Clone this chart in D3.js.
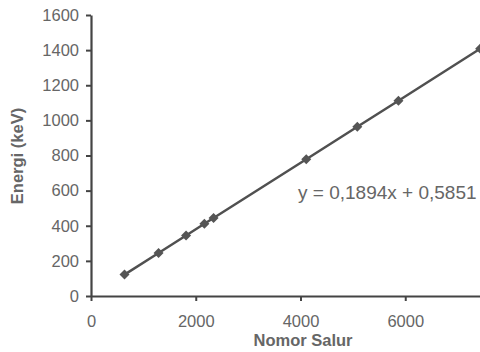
<!DOCTYPE html>
<html>
<head>
<meta charset="utf-8">
<script src="https://cdn.jsdelivr.net/npm/d3@7"></script>
<style>
    body { margin: 0; background: #fff; }
    svg { display: block; }
    text { font-family: "Liberation Sans", Arial, sans-serif; fill: #666; }
</style>
</head>
<body>
<svg id="chart" width="480" height="352"></svg>
<script>
// channel number (Nomor Salur) vs gamma energy (keV)
const channels = [640, 1290, 1815, 2165, 2340, 4110, 5085, 5870, 7430];
const energies = [121.8, 244.7, 344.3, 411.1, 444.0, 778.9, 964.1, 1112.1, 1408.0];
const xTicks = [0, 2000, 4000, 6000];
const yTicks = [0, 200, 400, 600, 800, 1000, 1200, 1400, 1600];
const fitLabel = "y = 0,1894x + 0,5851";

const svg = d3.select("#chart");

const x = d3.scaleLinear().domain([0, 8000]).range([91, 510]);
const y = d3.scaleLinear().domain([0, 1600]).range([296, 15]);

// x axis
const xAxis = svg.append("g")
    .attr("transform", "translate(0," + y(0) + ")")
    .call(d3.axisBottom(x).tickValues(xTicks).tickFormat(d3.format("d"))
        .tickSize(5).tickSizeOuter(0).tickPadding(14));
// y axis
const yAxis = svg.append("g")
    .attr("transform", "translate(" + x(0) + ",0)")
    .call(d3.axisLeft(y).tickValues(yTicks).tickFormat(d3.format("d"))
        .tickSize(5).tickSizeOuter(0).tickPadding(7));

for (let ax of [xAxis, yAxis]) {
    ax.attr("font-family", null);
    ax.select(".domain").attr("stroke", "#444").attr("stroke-width", 2.2);
    ax.selectAll(".tick line").attr("stroke", "#444").attr("stroke-width", 2);
    ax.selectAll(".tick text")
        .style("font-size", "16.5px")
        .style("fill", "#666");
}

// data line and markers
const line = d3.line()
    .x((d, i) => x(channels[i]))
    .y(d => y(d));

svg.append("path")
    .datum(energies)
    .attr("d", line)
    .attr("fill", "none")
    .attr("stroke", "#505050")
    .attr("stroke-width", 2.5);

svg.selectAll(".pt")
    .data(energies)
    .enter()
    .append("path")
        .attr("class", "pt")
        .attr("d", d3.symbol().type(d3.symbolSquare).size(50))
        .attr("transform", (d, i) => "translate(" + x(channels[i]) + "," + y(d) + ") rotate(45)")
        .attr("fill", "#555");

// axis titles
svg.append("text")
    .attr("x", 303)
    .attr("y", 346)
    .attr("text-anchor", "middle")
    .style("font-size", "16.5px")
    .style("font-weight", "bold")
    .text("Nomor Salur");

svg.append("text")
    .attr("transform", "translate(23,156) rotate(-90)")
    .attr("text-anchor", "middle")
    .style("font-size", "16.5px")
    .style("font-weight", "bold")
    .text("Energi (keV)");

// regression label
svg.append("text")
    .attr("x", 298)
    .attr("y", 199)
    .style("font-size", "19px")
    .text(fitLabel);
</script>
</body>
</html>
